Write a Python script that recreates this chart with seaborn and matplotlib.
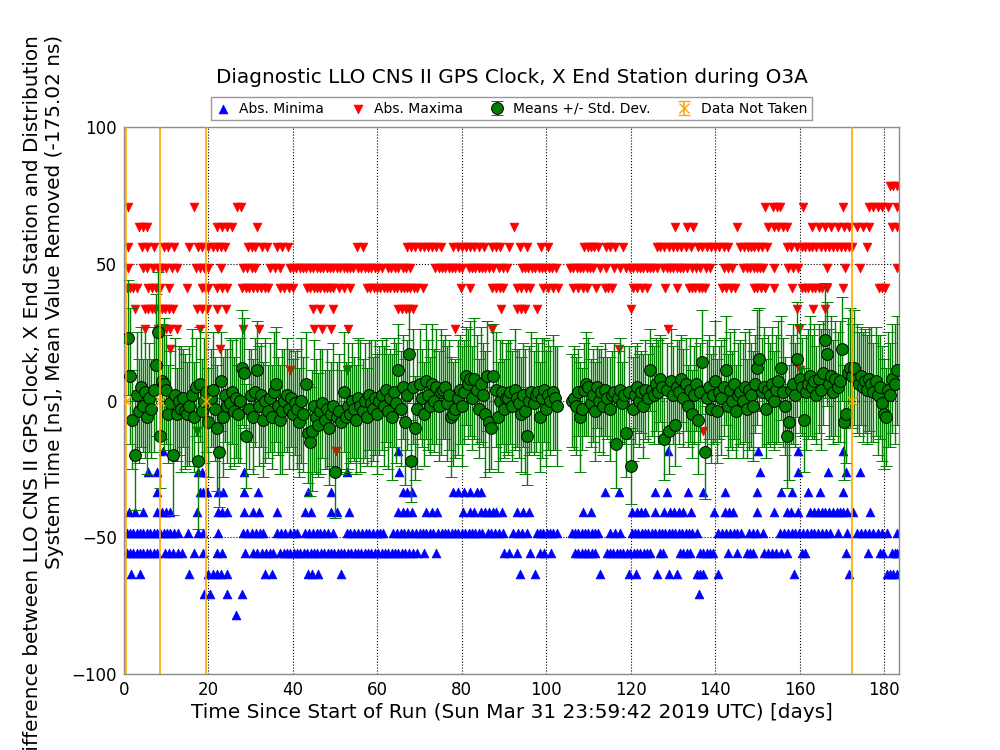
import numpy as np
import matplotlib
matplotlib.use("Agg")
import matplotlib.pyplot as plt
import seaborn as sns

# quantised extreme values (ns) -> days where a triangle sits at that level
MAX_ROWS = {
    78.3: [181.4, 182.2, 183.0],
    70.9: [1.0, 16.6, 26.7, 27.8, 151.7, 153.8, 154.6, 155.4, 160.7, 170.2,
           176.5, 177.5, 178.5, 179.5, 181.0, 183.0],
    63.4: [3.5, 4.5, 5.5, 22.0, 23.2, 24.4, 25.6, 31.4, 92.4, 130.5, 133.3,
           134.8, 145.3, 152.6, 154.0, 155.0, 156.0, 157.0, 163.0, 164.5, 166.0,
           167.5, 169.0, 170.5, 171.8, 173.5, 175.0, 176.5, 181.8, 183.0],
    56.0: [1.0, 4.2, 5.5, 7.0, 9.5, 10.5, 11.8, 15.4, 17.5, 18.5, 20.0, 21.0,
           22.0, 23.0, 24.0, 29.4, 30.4, 31.0, 32.7, 33.8, 36.2, 37.5, 38.8,
           55.2, 56.6, 67.0, 68.0, 69.0, 70.0, 71.0, 72.0, 73.0, 74.0, 75.0,
           78.0, 79.0, 80.0, 81.0, 82.0, 83.0, 84.0, 85.3, 87.1, 88.0, 89.1,
           91.3, 93.8, 95.5, 98.8, 100.5, 109.0, 109.8, 110.6, 111.4, 112.2,
           114.2, 115.2, 116.3, 118.3, 126.3, 127.0, 128.0, 129.0, 130.0, 131.0,
           132.0, 133.0, 134.3, 136.0, 137.0, 138.0, 139.0, 140.0, 141.0, 142.0,
           143.0, 145.9, 146.8, 147.7, 148.5, 149.3, 150.2, 151.0, 152.2, 157.0,
           158.0, 159.3, 160.5, 161.3, 162.2, 163.0, 164.0, 165.0, 166.0, 167.0,
           168.0, 168.8, 169.8, 170.8, 171.6, 172.4, 175.9],
    48.5: [1.0, 4.5, 5.5, 6.8, 8.0, 9.0, 10.0, 11.3, 12.5, 17.0, 18.0, 19.0,
           20.0, 23.0, 28.2, 29.2, 30.2, 31.0, 34.6, 35.8, 37.0, 39.3, 40.0,
           40.8, 41.6, 42.4, 43.2, 44.0, 44.8, 45.6, 46.4, 47.2, 48.0, 48.8,
           49.6, 50.4, 51.2, 52.0, 52.8, 53.6, 54.2, 55.4, 56.2, 57.0, 57.8,
           58.6, 59.4, 60.2, 61.0, 62.5, 63.3, 64.1, 65.0, 66.0, 66.8, 67.7,
           73.7, 74.5, 75.3, 76.1, 76.9, 77.7, 78.5, 79.3, 80.0, 81.6, 82.4,
           83.2, 84.0, 84.8, 85.6, 86.4, 87.3, 88.7, 89.7, 90.6, 94.2, 95.0,
           95.8, 96.6, 97.4, 98.2, 99.0, 99.8, 100.6, 101.4, 102.2, 105.6, 106.4,
           107.2, 108.0, 108.8, 109.6, 110.4, 111.0, 112.8, 114.2, 116.0, 117.5,
           119.0, 119.8, 120.6, 121.4, 122.2, 123.0, 123.8, 124.6, 125.4, 126.2,
           127.7, 128.5, 129.3, 130.1, 130.9, 131.7, 132.5, 133.3, 134.5, 135.5,
           136.5, 137.8, 138.8, 142.0, 143.0, 143.9, 146.7, 147.5, 148.3, 149.1,
           149.9, 150.7, 151.4, 154.0, 157.3, 158.5, 159.7, 166.4, 170.8, 174.3,
           183.0],
    41.0: [0.6, 1.4, 2.2, 3.0, 5.7, 6.6, 7.6, 8.5, 10.7, 15.0, 18.4, 19.2,
           20.0, 22.0, 23.1, 24.3, 27.9, 28.8, 29.7, 30.6, 31.5, 32.4, 33.3,
           34.1, 37.0, 38.0, 39.0, 40.0, 43.3, 44.1, 44.9, 45.7, 46.5, 47.3,
           48.1, 48.9, 49.5, 51.0, 52.2, 53.6, 57.5, 58.3, 59.1, 59.9, 60.7,
           61.5, 62.3, 63.1, 63.9, 64.7, 65.5, 66.3, 67.1, 67.8, 68.6, 69.5,
           70.8, 79.8, 82.0, 87.1, 88.0, 89.0, 89.8, 93.0, 94.0, 95.2, 96.2,
           99.3, 100.5, 101.7, 102.9, 106.4, 107.5, 108.6, 109.6, 111.8, 113.9,
           114.7, 115.5, 120.6, 121.6, 122.7, 123.8, 128.1, 130.9, 133.7, 134.5,
           135.3, 136.1, 136.9, 137.6, 141.6, 142.6, 143.7, 144.7, 149.1, 150.0,
           150.9, 151.8, 154.0, 158.1, 160.5, 161.3, 162.1, 162.9, 163.7, 164.5,
           165.3, 166.4, 170.2, 178.7, 179.5, 180.2],
    33.6: [2.6, 5.0, 5.8, 6.6, 7.4, 8.2, 9.0, 9.8, 10.6, 11.6, 17.2, 18.4,
           19.6, 22.0, 24.2, 44.8, 46.5, 49.5, 64.9, 65.8, 66.7, 67.6, 68.4,
           89.2, 93.0, 94.0, 95.0, 97.9, 120.1, 159.3, 163.1, 166.0],
    26.1: [5.0, 8.0, 9.0, 10.0, 11.0, 12.5, 18.0, 22.3, 28.2, 32.0, 45.0,
           46.9, 49.0, 53.0, 78.4, 87.1, 128.9, 159.9],
    18.7: [10.9, 22.7, 117.2],
    11.2: [39.3, 52.7, 160.0],
    -11.1: [17.4, 137.2],
    -18.6: [50.2],
}

MIN_ROWS = {
    -18.6: [9.2, 65.0, 128.8, 150.2, 159.7, 170.4],
    -26.0: [5.8, 7.9, 17.6, 18.4, 28.4, 52.7, 65.2, 150.6, 159.7, 166.7, 170.9,
            174.3],
    -33.5: [7.9, 18.0, 18.8, 19.7, 22.3, 23.5, 28.4, 31.8, 43.5, 49.0, 66.0,
            67.1, 68.2, 78.0, 79.0, 80.5, 82.0, 83.5, 84.5, 113.9, 117.2, 125.8,
            128.7, 133.5, 137.2, 142.3, 150.0, 155.5, 158.1, 162.1, 164.8, 170.4],
    -40.9: [1.2, 2.7, 4.6, 7.7, 9.0, 10.0, 11.0, 17.3, 22.3, 23.3, 24.4, 28.4,
            30.6, 32.0, 36.3, 42.9, 44.2, 49.0, 50.4, 53.3, 64.9, 66.0, 67.1,
            68.1, 71.6, 73.0, 74.2, 80.4, 82.0, 83.0, 84.5, 85.5, 86.5, 87.3,
            88.0, 89.6, 93.0, 94.5, 96.0, 108.8, 110.6, 120.4, 121.5, 122.5,
            123.5, 125.8, 128.0, 129.2, 130.3, 131.5, 132.5, 134.4, 139.7, 142.3,
            143.3, 144.3, 149.9, 154.0, 157.0, 158.0, 159.7, 162.5, 163.4, 164.3,
            165.2, 166.1, 167.0, 167.9, 168.8, 169.6, 170.4, 171.2, 172.7, 176.7],
    -48.4: [0.6, 1.4, 2.2, 3.0, 3.8, 4.6, 5.4, 6.2, 7.0, 7.8, 8.6, 9.4, 10.2,
            11.0, 11.8, 12.8, 15.2, 17.5, 18.7, 22.3, 28.2, 29.2, 30.2, 31.2,
            32.2, 33.0, 36.2, 37.2, 38.2, 39.2, 40.2, 41.0, 42.9, 43.8, 44.7,
            45.6, 46.5, 47.4, 48.3, 49.5, 52.7, 53.6, 54.5, 55.4, 56.3, 57.2,
            58.1, 59.0, 59.9, 60.6, 61.3, 63.7, 64.6, 65.5, 66.4, 67.3, 68.2,
            69.1, 70.0, 70.8, 71.6, 72.4, 73.2, 74.4, 75.2, 76.0, 76.8, 77.6,
            78.4, 79.2, 80.0, 80.8, 81.6, 82.4, 83.2, 84.0, 84.7, 86.2, 87.0,
            87.8, 88.8, 89.8, 92.1, 93.2, 94.3, 95.4, 97.7, 98.5, 99.3, 100.1,
            100.9, 101.7, 102.5, 106.0, 106.8, 107.6, 108.4, 109.2, 110.0, 110.8,
            111.6, 112.3, 115.1, 116.3, 117.5, 120.2, 121.0, 121.8, 122.6, 123.4,
            124.2, 125.0, 125.8, 126.6, 127.4, 128.2, 129.0, 129.8, 130.6, 131.4,
            132.2, 133.0, 133.8, 134.6, 135.6, 140.8, 141.7, 142.6, 143.5, 144.4,
            145.3, 146.2, 148.0, 149.0, 150.0, 151.4, 155.4, 156.3, 157.2, 158.1,
            159.0, 159.9, 160.8, 161.7, 162.6, 163.5, 164.4, 165.3, 166.2, 167.2,
            169.0, 171.2, 173.5, 174.5, 175.5, 176.5, 177.5, 178.5, 179.5, 180.6,
            183.0],
    -55.9: [0.6, 1.4, 2.2, 3.0, 3.8, 4.6, 5.4, 6.2, 7.0, 7.7, 9.7, 10.7, 11.7,
            12.7, 13.7, 16.6, 18.7, 22.0, 23.1, 28.7, 30.6, 31.6, 32.6, 33.6,
            34.5, 35.3, 37.0, 37.8, 38.6, 39.4, 40.2, 41.0, 41.8, 42.6, 43.4,
            44.2, 45.0, 45.8, 46.6, 47.4, 48.2, 49.0, 49.8, 50.6, 51.4, 52.2,
            53.0, 53.8, 54.6, 55.4, 56.2, 57.0, 57.8, 58.6, 59.4, 60.2, 61.0,
            61.8, 62.6, 63.4, 64.2, 65.0, 65.8, 66.6, 67.4, 68.5, 69.5, 71.0,
            73.9, 89.9, 91.2, 93.1, 96.2, 98.5, 99.5, 101.2, 106.8, 107.6, 108.4,
            109.2, 110.0, 110.8, 111.6, 114.3, 115.1, 115.9, 116.7, 117.5, 118.3,
            119.1, 119.9, 120.7, 121.5, 122.3, 123.1, 123.9, 124.6, 127.0, 127.7,
            131.7, 132.5, 133.3, 134.0, 136.4, 137.2, 138.0, 138.8, 139.6, 143.0,
            145.1, 147.5, 148.3, 149.0, 151.5, 152.5, 153.5, 154.5, 155.5, 157.0,
            160.5, 161.3, 170.9, 176.3, 179.0, 179.8, 182.0, 182.6, 183.0],
    -63.3: [1.7, 3.8, 15.5, 19.8, 21.0, 22.0, 23.0, 24.5, 33.5, 35.0, 43.5,
            44.5, 46.0, 51.3, 93.8, 97.3, 112.7, 119.5, 121.3, 126.2, 129.1,
            130.9, 135.6, 136.4, 137.2, 140.6, 158.8, 171.7, 180.6, 181.4, 182.2,
            183.0],
    -70.8: [19.0, 20.4, 24.5, 27.9, 136.2],
    -78.3: [26.5],
}

# means and std devs sampled every half day, two runs of data
SEG_A = (1.0, 102.5)
SEG_B = (106.0, 183.0)
MEANS_A = [23, 9, -7, -20, 2, -4, 5, -2, 3, -6, 1, -3, 4, 13, 25, -13, 7, 6, 4, -5,
           -1, -20, 2, -5, 0, -3, 1, -4, -5, -2, 2, -6, 5, -22, 6, -4, 0, 3, -8, 1,
           4, -3, -10, -19, 7, -6, 2, -2, -1, 3, -4, 1, -5, 0, 12, 10, -13, -3, 2, -6,
           3, 11, -2, 2, -7, 0, -4, 1, -6, 3, 6, -2, -7, -4, 0, 2, -3, 1, -5, -1,
           -3, -8, 0, -5, 6, -12, -15, -11, -2, -6, -9, -4, -1, -7, -3, -10, -5, -2, -26, -6,
           -4, -8, 3, -6, -2, -5, 0, -3, -7, 1, -2, -4, 0, -6, 2, -1, -3, 1, -5, 0,
           2, -2, 4, -4, 1, -6, 3, -1, 11, -3, 5, -8, 2, 17, -22, 5, -10, -3, 6, 1,
           -5, 7, 2, -2, 6, 0, 5, -2, 3, 4, 5, -1, 2, -6, -5, -3, 1, 4, -2, 3,
           9, 6, 8, 1, 8, 4, -3, 6, 2, -5, 9, -8, -10, 9, 4, -6, 0, 3, -3, 1,
           1, 3, -2, 4, 1, -1, -5, 2, -4, -13, 0, 3, -1, 2, 3, -6, 1, 4, -3, 2,
           0, 3, 1, -2]
STDS_A = [21, 25, 18, 20, 23, 19, 22, 17, 24, 21, 20, 18, 23, 26, 22, 19, 21, 24, 20, 18,
          19, 22, 21, 17, 20, 23, 18, 21, 19, 22, 24, 20, 18, 25, 21, 19, 23, 22, 20, 18,
          21, 19, 23, 20, 18, 22, 17, 21, 24, 19, 20, 22, 18, 23, 21, 20, 19, 22, 17, 21,
          20, 18, 22, 19, 21, 23, 17, 20, 19, 22, 21, 18, 20, 23, 19, 21, 22, 18, 20, 19,
          22, 20, 23, 21, 19, 18, 20, 22, 24, 21, 19, 23, 20, 18, 22, 21, 19, 23, 17, 20,
          21, 19, 22, 20, 23, 18, 21, 19, 20, 22, 24, 19, 21, 18, 20, 23, 19, 21, 22, 20,
          20, 22, 19, 21, 18, 23, 20, 22, 17, 21, 19, 23, 20, 18, 15, 21, 19, 22, 20, 18,
          19, 21, 20, 18, 22, 19, 21, 20, 23, 18, 19, 21, 20, 22, 19, 18, 21, 20, 22, 19,
          18, 20, 21, 19, 22, 20, 18, 21, 19, 23, 20, 18, 15, 19, 21, 20, 22, 19, 18, 20,
          21, 19, 20, 22, 18, 20, 21, 19, 23, 18, 20, 22, 19, 21, 18, 20, 22, 19, 21, 20,
          20, 21, 19, 22]
MEANS_B = [0, 1, -2, 3, -6, -3, 4, 6, 5, -1, 2, -4, 5, 0, 3, -2, 4, 1, -3, 2,
           3, -16, 1, 4, -1, 2, -12, 3, -24, -3, 2, 5, 0, 3, -2, 4, 1, 11, 4, 2,
           6, 3, 8, 5, -14, 4, -11, 7, 2, -9, 5, 3, 8, 1, 6, -2, 4, -5, 2, 6,
           -7, 3, 14, -19, 1, 5, -3, 2, 7, -4, 3, 1, 5, 11, -2, 4, 0, 6, -4, 2,
           3, 0, 5, -3, 4, 2, -2, 6, 12, 15, 3, 5, -3, 4, 2, 6, 0, 4, 7, 12,
           3, -2, -13, -8, 4, 6, 2, 15, 8, 5, -7, 3, 6, 9, 5, 7, 2, 8, 4, 10,
           22, 17, 6, 9, 3, 8, 5, 7, 19, -8, -5, 10, 12, 9, 12, 8, 6, 9, 5, 7,
           4, 8, 6, 3, 7, 2, 5, -1, -5, -6, 4, 2, 8, 6, 11]
STDS_B = [17, 19, 18, 16, 20, 15, 17, 19, 18, 16, 17, 18, 15, 19, 16, 18, 17, 15, 19, 16,
          18, 16, 17, 19, 15, 18, 16, 17, 14, 19, 18, 16, 17, 15, 19, 18, 16, 15, 17, 18,
          17, 19, 16, 18, 15, 17, 16, 19, 18, 15, 17, 19, 16, 18, 17, 15, 19, 16, 18, 17,
          20, 18, 19, 17, 21, 19, 20, 18, 22, 19, 17, 21, 18, 20, 19, 21, 18, 20, 17, 19,
          19, 21, 20, 18, 22, 19, 20, 18, 21, 19, 20, 22, 18, 20, 19, 21, 18, 20, 22, 19,
          20, 18, 19, 21, 20, 22, 19, 21, 20, 18, 19, 21, 20, 22, 19, 21, 18, 20, 22, 19,
          21, 19, 20, 22, 19, 21, 20, 22, 19, 21, 18, 20, 22, 19, 21, 20, 19, 18, 20, 19,
          20, 19, 21, 18, 20, 22, 19, 21, 20, 18, 21, 19, 20, 22, 20]

NOT_TAKEN_DAYS = [0.5, 8.5, 19.5, 172.5]

TITLE = "Diagnostic LLO CNS II GPS Clock, X End Station during O3A"
XLABEL = "Time Since Start of Run (Sun Mar 31 23:59:42 2019 UTC) [days]"
YLABEL = ("Difference between LLO CNS II GPS Clock, X End Station and Distribution\n"
          "System Time [ns], Mean Value Removed (-175.02 ns)")


def rows_to_points(rows):
    days, vals = [], []
    for level, ds in rows.items():
        days += ds
        vals += [level] * len(ds)
    return np.array(days), np.array(vals)


def half_day_grid(seg, n):
    t = np.arange(seg[0], seg[1] + 0.25, 0.5)
    assert len(t) == n, (seg, len(t), n)
    return t


mean_days = np.concatenate([half_day_grid(SEG_A, len(MEANS_A)),
                            half_day_grid(SEG_B, len(MEANS_B))])
assert len(STDS_A) == len(MEANS_A) and len(STDS_B) == len(MEANS_B)
means = np.array(MEANS_A + MEANS_B, dtype=float)
stds = np.array(STDS_A + STDS_B, dtype=float)

min_days, min_vals = rows_to_points(MIN_ROWS)
max_days, max_vals = rows_to_points(MAX_ROWS)

sns.set_style("white")
plt.rcParams['font.family'] = ['DejaVu Sans']
plt.rcParams.update({'text.color': 'k', 'axes.labelcolor': 'k',
                     'xtick.color': 'k', 'ytick.color': 'k'})

fig = plt.figure(figsize=(10, 7.5), dpi=100)
ax = fig.add_axes([0.124, 0.1013, 0.775, 0.7294])

sns.scatterplot(x=min_days, y=min_vals, marker='^', color='#0000ff', s=40,
                edgecolor='#0000ff', linewidth=0.5, ax=ax, zorder=2, legend=False)
sns.scatterplot(x=max_days, y=max_vals, marker='v', color='#ff0000', s=40,
                edgecolor='#ff0000', linewidth=0.5, ax=ax, zorder=2, legend=False)
h_min = ax.collections[0]
h_max = ax.collections[1]

h_mean = ax.errorbar(mean_days, means, yerr=stds, fmt='o', color='#007f00',
                     mfc='#007f00', mec='k', mew=0.7, ms=8.5,
                     ecolor='#007f00', elinewidth=1.0, capsize=4, zorder=3)
h_nt = ax.errorbar(NOT_TAKEN_DAYS, np.zeros(len(NOT_TAKEN_DAYS)), yerr=300,
                   fmt='x', color='orange', ms=7, elinewidth=1.2, capsize=4,
                   zorder=4)

ax.set_xlim(0, 183.55)
ax.set_ylim(-100, 100)
ax.set_xticks(np.arange(0, 181, 20))
ax.set_yticks([-100, -50, 0, 50, 100])
ax.tick_params(labelsize=12, length=0, pad=5)
ax.grid(True, color='k', linestyle=':', linewidth=0.8)
for s in ax.spines.values():
    s.set_color('0.55')
    s.set_linewidth(1)

ax.set_xlabel(XLABEL, fontsize=14.4, labelpad=3)
fig.text(0.044, 0.466, YLABEL, rotation=90, ha='center', va='center',
         fontsize=14.4, multialignment='right')
ax.set_title(TITLE, fontsize=14.4, pad=32)

ax.legend([h_min, h_max, h_mean, h_nt],
          ['Abs. Minima', 'Abs. Maxima', 'Means +/- Std. Dev.', 'Data Not Taken'],
          loc='lower center', bbox_to_anchor=(0.5, 1.012), ncol=4, fontsize=10,
          frameon=True, fancybox=False, edgecolor='0.5', scatterpoints=1,
          numpoints=1, borderaxespad=0, handlelength=1.0, handletextpad=0.7,
          columnspacing=1.9, borderpad=0.35)

fig.savefig("out.png", dpi=100)
